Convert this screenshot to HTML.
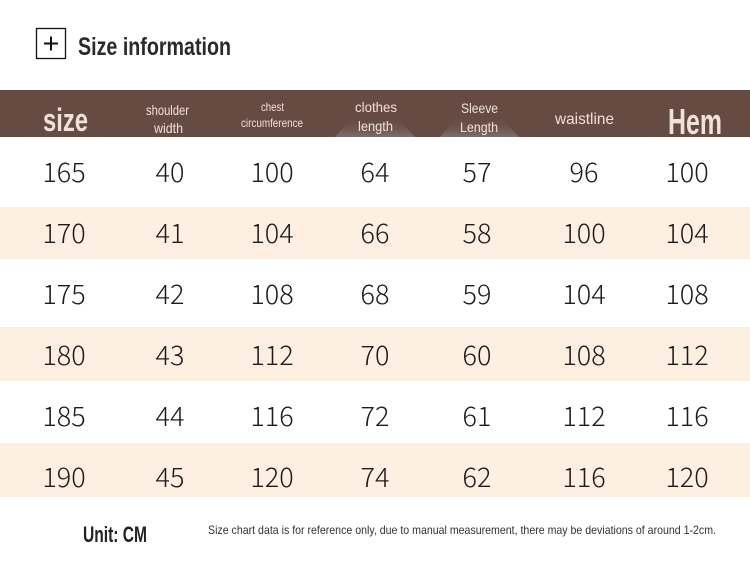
<!DOCTYPE html>
<html>
<head>
<meta charset="utf-8">
<style>
  html,body{margin:0;padding:0;background:#fff;}
  svg{display:block;}
  .hd{font-family:"Liberation Sans",sans-serif;fill:#f1e1d9;}
  .num{font-family:"Noto Sans CJK SC","Liberation Sans",sans-serif;font-size:27px;font-weight:300;fill:#1e1b1a;}
</style>
</head>
<body>
<svg width="750" height="563" viewBox="0 0 750 563" xmlns="http://www.w3.org/2000/svg">
  <defs>
    <linearGradient id="tri" x1="0" y1="0" x2="0" y2="1">
      <stop offset="0" stop-color="#6a514a" stop-opacity="0"/>
      <stop offset="1" stop-color="#858080" stop-opacity="0.7"/>
    </linearGradient>
  </defs>
  <rect x="0" y="0" width="750" height="563" fill="#ffffff"/>

  <!-- title -->
  <rect x="36.5" y="28.5" width="29" height="30" fill="none" stroke="#111" stroke-width="1.3"/>
  <line x1="44" y1="43.5" x2="58" y2="43.5" stroke="#111" stroke-width="2"/>
  <line x1="51" y1="36.5" x2="51" y2="50.5" stroke="#111" stroke-width="2"/>
  <text x="78" y="55" font-family="Liberation Sans, sans-serif" font-weight="bold" font-size="25" fill="#2a2a2a" textLength="153" lengthAdjust="spacingAndGlyphs">Size information</text>

  <!-- header band -->
  <rect x="0" y="90" width="750" height="47" fill="#664b43"/>
  <polygon points="335,137 352,118 398,118 415,137" fill="url(#tri)"/>
  <polygon points="440,137 457,118 502,118 519,137" fill="url(#tri)"/>

  <text class="hd" x="43" y="131" font-size="32" font-weight="bold" textLength="45" lengthAdjust="spacingAndGlyphs">size</text>
  <text class="hd" x="146" y="115" font-size="14" textLength="43" lengthAdjust="spacingAndGlyphs">shoulder</text>
  <text class="hd" x="154" y="133" font-size="14" textLength="29" lengthAdjust="spacingAndGlyphs">width</text>
  <text class="hd" x="261" y="111" font-size="12" textLength="23" lengthAdjust="spacingAndGlyphs">chest</text>
  <text class="hd" x="241" y="127" font-size="12" textLength="62" lengthAdjust="spacingAndGlyphs">circumference</text>
  <text class="hd" x="355" y="112" font-size="14" textLength="42" lengthAdjust="spacingAndGlyphs">clothes</text>
  <text class="hd" x="358" y="131" font-size="14" textLength="35" lengthAdjust="spacingAndGlyphs">length</text>
  <text class="hd" x="461" y="113" font-size="14" textLength="37" lengthAdjust="spacingAndGlyphs">Sleeve</text>
  <text class="hd" x="460" y="132" font-size="14" textLength="38" lengthAdjust="spacingAndGlyphs">Length</text>
  <text class="hd" x="555" y="124" font-size="16" textLength="59" lengthAdjust="spacingAndGlyphs">waistline</text>
  <text class="hd" x="668" y="134" font-size="36" font-weight="bold" textLength="54" lengthAdjust="spacingAndGlyphs">Hem</text>

  <!-- stripes -->
  <rect x="0" y="207" width="750" height="52" fill="#fdf0e2"/>
  <rect x="0" y="327" width="750" height="54" fill="#fdf0e2"/>
  <rect x="0" y="443" width="750" height="54" fill="#fdf0e2"/>

  <!-- data -->
  <g class="num" text-anchor="middle">
    <text x="64" y="182">165</text><text x="170" y="182">40</text><text x="272" y="182">100</text><text x="375" y="182">64</text><text x="477" y="182">57</text><text x="584" y="182">96</text><text x="687" y="182">100</text>
    <text x="64" y="243">170</text><text x="170" y="243">41</text><text x="272" y="243">104</text><text x="375" y="243">66</text><text x="477" y="243">58</text><text x="584" y="243">100</text><text x="687" y="243">104</text>
    <text x="64" y="304">175</text><text x="170" y="304">42</text><text x="272" y="304">108</text><text x="375" y="304">68</text><text x="477" y="304">59</text><text x="584" y="304">104</text><text x="687" y="304">108</text>
    <text x="64" y="365">180</text><text x="170" y="365">43</text><text x="272" y="365">112</text><text x="375" y="365">70</text><text x="477" y="365">60</text><text x="584" y="365">108</text><text x="687" y="365">112</text>
    <text x="64" y="426">185</text><text x="170" y="426">44</text><text x="272" y="426">116</text><text x="375" y="426">72</text><text x="477" y="426">61</text><text x="584" y="426">112</text><text x="687" y="426">116</text>
    <text x="64" y="487">190</text><text x="170" y="487">45</text><text x="272" y="487">120</text><text x="375" y="487">74</text><text x="477" y="487">62</text><text x="584" y="487">116</text><text x="687" y="487">120</text>
  </g>

  <!-- footer -->
  <text x="83" y="542" font-family="Liberation Sans, sans-serif" font-weight="bold" font-size="22" fill="#222" textLength="64" lengthAdjust="spacingAndGlyphs">Unit: CM</text>
  <text x="208" y="534" font-family="Liberation Sans, sans-serif" font-size="12" fill="#333" textLength="508" lengthAdjust="spacingAndGlyphs">Size chart data is for reference only, due to manual measurement, there may be deviations of around 1-2cm.</text>
</svg>
</body>
</html>
